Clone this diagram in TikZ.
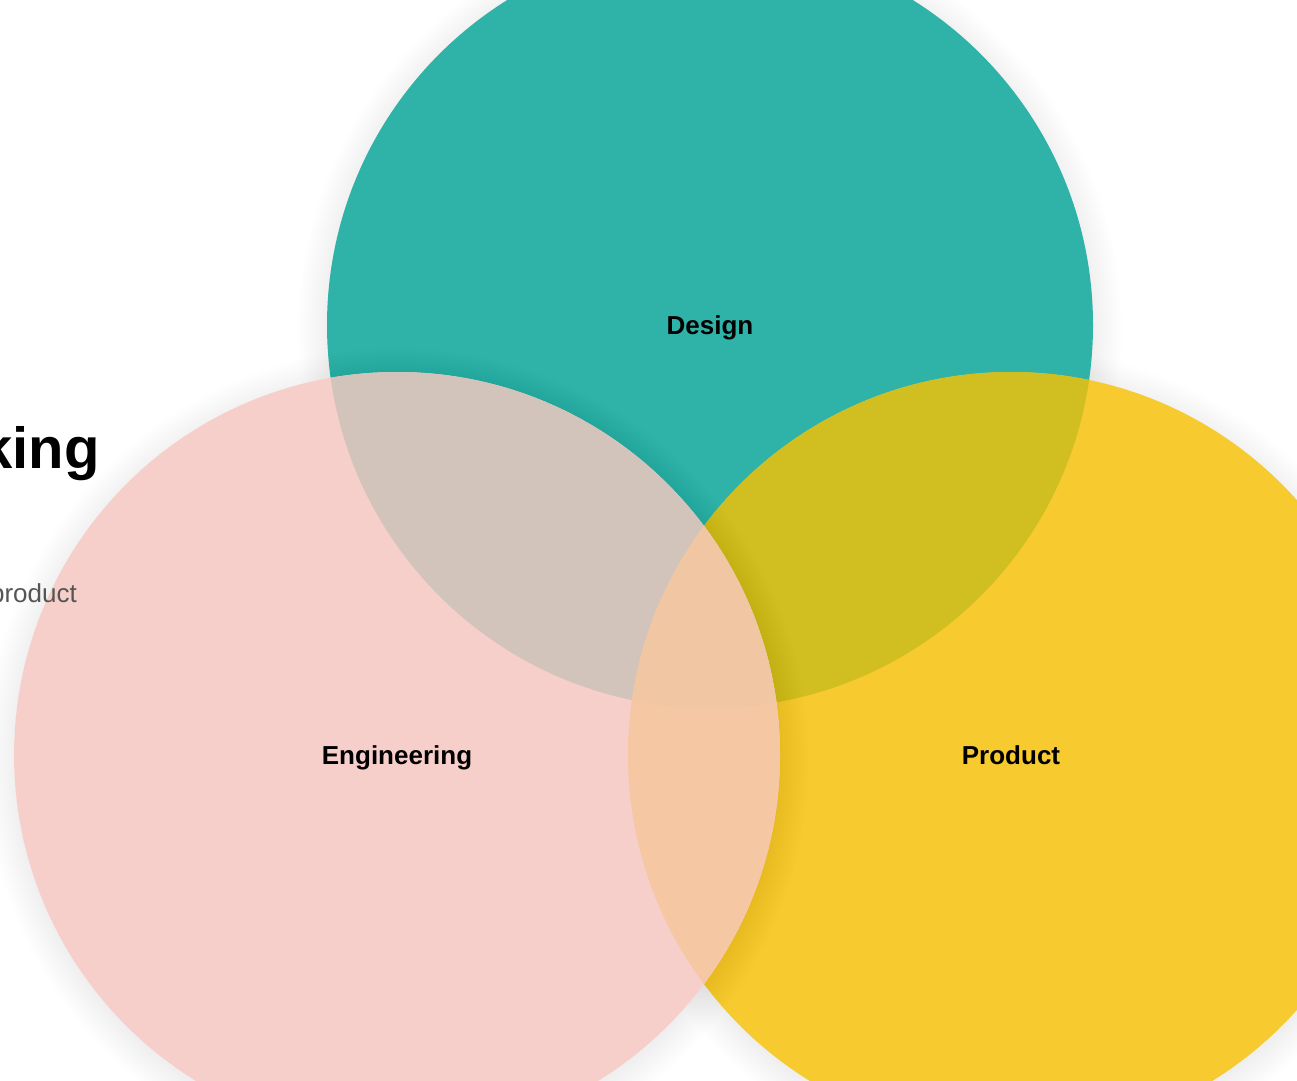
\documentclass[tikz,border=0pt]{standalone}
\usepackage{fontspec}
\setmainfont{Liberation Sans}
\definecolor{cD}{HTML}{2FB3A8}
\definecolor{cE}{HTML}{F7CFCA}
\definecolor{cP}{HTML}{F7CA30}
\definecolor{cDE}{HTML}{D3C4BB}
\definecolor{cDP}{HTML}{D1BF22}
\definecolor{cEP}{HTML}{F5C7A3}
\definecolor{cDEP}{HTML}{F1C6A3}
\definecolor{subgray}{HTML}{555555}
\tikzset{
  shadowring/.style={fill=black,opacity=0.0045},
  setlabel/.style={font=\fontsize{26}{30}\selectfont\bfseries, text=black, inner sep=0pt, anchor=base},
}
\newcommand{\Rad}{383pt}
\begin{document}
\begin{tikzpicture}[x=1pt,y=-1pt]
\useasboundingbox (0,0) rectangle (1297,1080);
\clip (0,0) rectangle (1297,1080);
\fill[white] (0,0) rectangle (1297,1080);
\coordinate (D) at (710,325);
\coordinate (E) at (397,755);
\coordinate (P) at (1011,755);
% soft shadows
\foreach \i in {1,...,16} {
  \fill[shadowring] ([yshift=-5pt]D) circle[radius={380pt+2pt*\i}];
  \fill[shadowring] ([yshift=-5pt]P) circle[radius={380pt+2pt*\i}];
}
\fill[cD] (D) circle[radius=\Rad];
\fill[cP] (P) circle[radius=\Rad];
\begin{scope}
  \clip (D) circle[radius=\Rad];
  \fill[cDP] (P) circle[radius=\Rad];
\end{scope}
% shadow of Engineering on everything below it
\foreach \i in {1,...,16} {
  \fill[shadowring, even odd rule] ([yshift=-5pt]E) circle[radius={380pt+2pt*\i}] (E) circle[radius=\Rad];
}
\fill[cE] (E) circle[radius=\Rad];
\begin{scope}
  \clip (E) circle[radius=\Rad];
  \fill[cDE] (D) circle[radius=\Rad];
  \fill[cEP] (P) circle[radius=\Rad];
  \clip (D) circle[radius=\Rad];
  \fill[cDEP] (P) circle[radius=\Rad];
\end{scope}
% texts
\node[anchor=base east, inner sep=0pt, font=\fontsize{58}{64}\selectfont\bfseries] (title) at (100,468) {king};
\node[anchor=base east, inner sep=0pt, text=subgray, font=\fontsize{26}{30}\selectfont] (sub) at (77,602) {product};
\node[setlabel] (ld) at ([yshift=-9pt]D) {Design};
\node[setlabel] (le) at ([yshift=-9pt]E) {Engineering};
\node[setlabel] (lp) at ([yshift=-9pt]P) {Product};
\end{tikzpicture}
\end{document}
